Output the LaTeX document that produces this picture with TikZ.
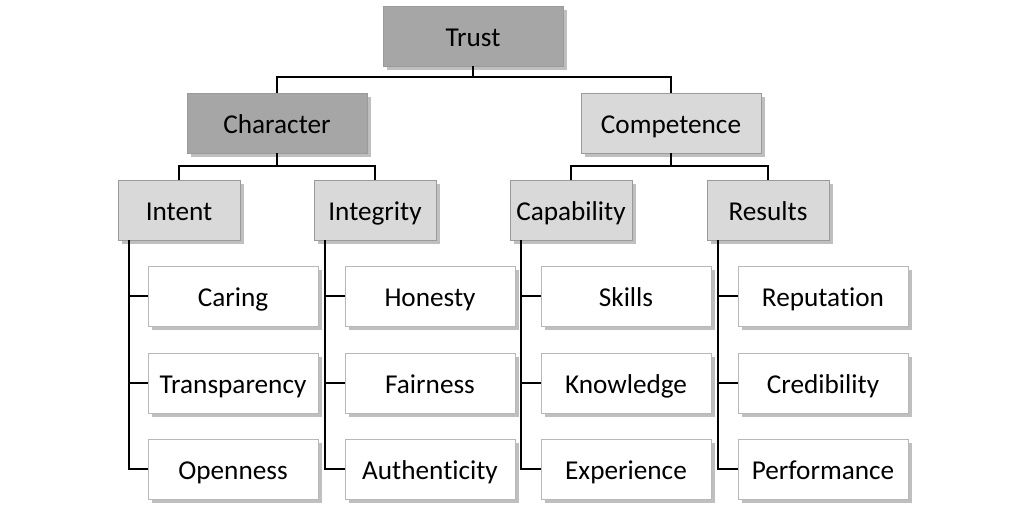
\documentclass[tikz,border=0pt]{standalone}
\usepackage{fontspec}
\setmainfont{Carlito}[Ligatures=NoCommon]
\usetikzlibrary{positioning, shadows}

\definecolor{darkbox}{HTML}{A6A6A6}
\definecolor{lightbox}{HTML}{D9D9D9}
\definecolor{boxline}{HTML}{9A9A9A}

\begin{document}
\begin{tikzpicture}[
		% one unit is one pixel of the 1024 x 516 page
		x=0.02cm, y=-0.02cm,
		box/.style={draw=boxline, inner sep=0pt, minimum height=1.2cm,
			font=\fontsize{15.5}{19}\selectfont, text height=13pt, text depth=1.5pt,
			drop shadow={shadow xshift=2pt, shadow yshift=-2pt, opacity=0.25, fill=black}},
		topbox/.style={box, fill=darkbox, minimum width=3.6cm},
		midbox/.style={box, minimum width=3.6cm},
		subbox/.style={box, fill=lightbox, minimum width=2.44cm},
		leaf/.style={box, fill=white, draw=boxline!70, minimum width=3.4cm},
		link/.style={draw=black, line width=1pt}
		]
		
		\useasboundingbox (0,0) rectangle (1024,516);
		
		% --- 1. ROOT ---
		\node[topbox] (trust) at (473,36) {Trust};
		
		% --- 2. CHARACTER AND COMPETENCE ---
		\node[midbox, fill=darkbox] (character) at (277,123) {Character};
		\node[midbox, fill=lightbox] (competence) at (671,123) {Competence};
		
		\draw[link] (trust.south) -- ++(0,11) -| (character.north);
		\draw[link] (trust.south) -- ++(0,11) -| (competence.north);
		
		% --- 3. THE FOUR GROUPS ---
		\node[subbox] (intent) at (179,210) {Intent};
		\node[subbox] (integrity) at (375,210) {Integrity};
		\node[subbox] (capability) at (571,210) {Capability};
		\node[subbox] (results) at (768,210) {Results};
		
		\draw[link] (character.south) -- ++(0,13) -| (intent.north);
		\draw[link] (character.south) -- ++(0,13) -| (integrity.north);
		\draw[link] (competence.south) -- ++(0,13) -| (capability.north);
		\draw[link] (competence.south) -- ++(0,13) -| (results.north);
		
		% --- 4. LEAVES, hung from a bar under each group ---
		\foreach \grp/\cx/\la/\lb/\lc in {
			intent/233/Caring/Transparency/Openness,
			integrity/430/Honesty/Fairness/Authenticity,
			capability/626/Skills/Knowledge/Experience,
			results/823/Reputation/Credibility/Performance} {
			\node[leaf] (\grp-1) at (\cx,296) {\la};
			\node[leaf] (\grp-2) at (\cx,383) {\lb};
			\node[leaf] (\grp-3) at (\cx,469) {\lc};
			
			\coordinate (\grp-bar) at ([xshift=0.22cm]\grp.south west);
			\draw[link] (\grp-bar) |- (\grp-3.west);
			\draw[link] (\grp-1.west) -- (\grp-1.west -| \grp-bar);
			\draw[link] (\grp-2.west) -- (\grp-2.west -| \grp-bar);
		}
		
	\end{tikzpicture}
\end{document}
